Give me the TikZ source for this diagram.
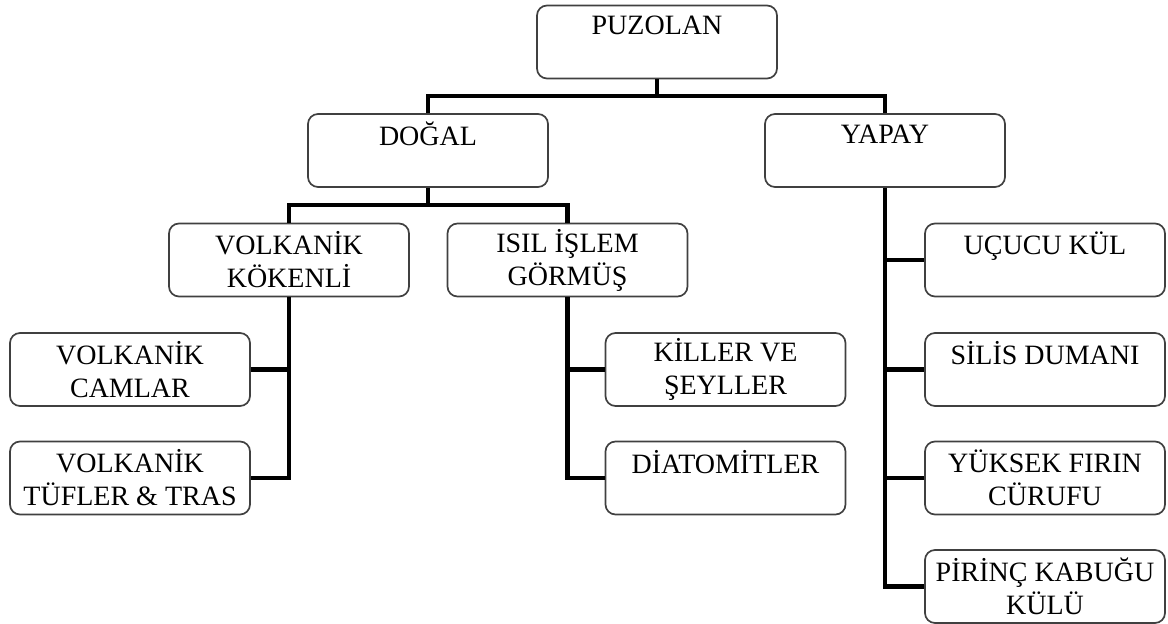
\documentclass[tikz,border=0pt]{standalone}
\usepackage{fontspec}
\setmainfont{Liberation Serif}
\usepackage{tikz}
\newcommand{\tikzScale}{0.5pt}
\newcommand{\boxWidth}{120pt}
\newcommand{\boxHeight}{36.5pt}
\tikzset{
  catbox/.style={draw=black!75, line width=0.85pt, rounded corners=5pt, fill=white,
    minimum width=\boxWidth, minimum height=\boxHeight, align=center, inner sep=0pt,
    font=\fontsize{14}{16.5}\selectfont},
  branch/.style={line width=2.3pt, line join=miter}
}

\begin{document}
\begin{tikzpicture}[x=\tikzScale, y=-\tikzScale]
\useasboundingbox (0,0) rectangle (1168,624);
\node[catbox] (puzolan) at (657,42) {PUZOLAN\\~};
\node[catbox] (dogal) at (428,150.5) {DOĞAL\\~};
\node[catbox] (yapay) at (885,150.5) {YAPAY\\~};
\node[catbox] (volkanik) at (289,260) {VOLKANİK\\KÖKENLİ};
\node[catbox] (isil) at (567.5,260) {ISIL İŞLEM\\GÖRMÜŞ};
\node[catbox] (camlar) at (130,369.5) {VOLKANİK\\CAMLAR};
\node[catbox] (tufler) at (130,478) {VOLKANİK\\TÜFLER \& TRAS};
\node[catbox] (killer) at (725.5,369.5) {KİLLER VE\\ŞEYLLER};
\node[catbox] (diatom) at (725.5,478) {DİATOMİTLER\\~};
\node[catbox] (ucucu) at (1045,260) {UÇUCU KÜL\\~};
\node[catbox] (silis) at (1045,369.5) {SİLİS DUMANI\\~};
\node[catbox] (yuksek) at (1045,478) {YÜKSEK FIRIN\\CÜRUFU};
\node[catbox] (pirinc) at (1045,586.5) {PİRİNÇ KABUĞU\\KÜLÜ};

\coordinate (topBus) at (657,96);
\draw[branch] (puzolan.south) -- (topBus);
\draw[branch] (dogal.north) |- (topBus) -| (yapay.north);
\coordinate (dogalBus) at (428,205);
\draw[branch] (dogal.south) -- (dogalBus);
\draw[branch] (volkanik.north) |- (dogalBus) -| (isil.north);
\draw[branch] (volkanik.south) |- (tufler.east);
\draw[branch] (camlar.east) -- (camlar.east -| volkanik.south);
\draw[branch] (isil.south) |- (diatom.west);
\draw[branch] (killer.west) -- (killer.west -| isil.south);
\draw[branch] (yapay.south) |- (pirinc.west);
\foreach \n in {ucucu,silis,yuksek}
  \draw[branch] (\n.west) -- (\n.west -| yapay.south);
\end{tikzpicture}
\end{document}
